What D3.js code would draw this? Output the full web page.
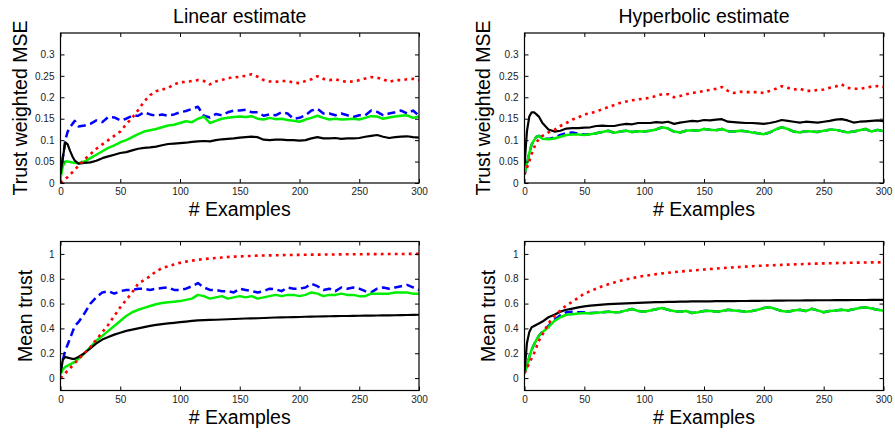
<!DOCTYPE html>
<html>
<head>
<meta charset="utf-8">
<script src="https://cdn.jsdelivr.net/npm/d3@7"></script>
<style>
  html, body { margin: 0; padding: 0; background: #fff; }
  svg { display: block; font-family: "Liberation Sans", Arial, Helvetica, sans-serif; }
</style>
</head>
<body>
<svg id="chart" width="895" height="434"></svg>
<script>
// Number of training examples at which each curve is sampled
const xs = [0, 2, 4, 6, 8, 10, 12, 15,
  20, 25, 30, 35, 40, 45, 50, 55, 60, 65,
  70, 75, 80, 85, 90, 95, 100, 105, 110, 115,
  120, 125, 130, 135, 140, 145, 150, 155, 160, 165,
  170, 175, 180, 185, 190, 195, 200, 205, 210, 215,
  220, 225, 230, 235, 240, 245, 250, 255, 260, 265,
  270, 275, 280, 285, 290, 295, 300];

// Tick labels
const xTicks = [0, 50, 100, 150, 200, 250, 300];
const mseTicks = [0, 0.05, 0.1, 0.15, 0.2, 0.25, 0.3];
const trustTicks = [0, 0.2, 0.4, 0.6, 0.8, 1];

// ---- Linear estimate: trust weighted MSE ----
const linMseRed = [0, 0.004, 0.009, 0.014, 0.02, 0.025, 0.031, 0.04,
  0.055, 0.067, 0.08, 0.09, 0.1, 0.11, 0.12, 0.137, 0.152, 0.17,
  0.19, 0.205, 0.214, 0.218, 0.222, 0.23, 0.235, 0.236, 0.238, 0.24,
  0.238, 0.23, 0.237, 0.24, 0.245, 0.246, 0.248, 0.25, 0.254, 0.248,
  0.24, 0.237, 0.236, 0.238, 0.238, 0.234, 0.233, 0.238, 0.242, 0.249,
  0.243, 0.24, 0.242, 0.238, 0.236, 0.237, 0.24, 0.244, 0.247, 0.246,
  0.242, 0.236, 0.24, 0.24, 0.242, 0.243, 0.24];
const linMseBlue = [0.02, 0.06, 0.1, 0.12, 0.13, 0.138, 0.145, 0.132,
  0.134, 0.138, 0.146, 0.142, 0.154, 0.153, 0.146, 0.15, 0.157, 0.157,
  0.165, 0.16, 0.157, 0.16, 0.157, 0.16, 0.165, 0.168, 0.173, 0.178,
  0.157, 0.153, 0.161, 0.158, 0.165, 0.169, 0.169, 0.171, 0.165, 0.165,
  0.157, 0.16, 0.158, 0.165, 0.162, 0.15, 0.152, 0.158, 0.169, 0.173,
  0.162, 0.162, 0.158, 0.162, 0.158, 0.154, 0.158, 0.158, 0.169, 0.166,
  0.158, 0.162, 0.165, 0.169, 0.162, 0.169, 0.157];
const linMseGreen = [0.01, 0.04, 0.05, 0.05, 0.049, 0.048, 0.047, 0.046,
  0.05, 0.058, 0.066, 0.074, 0.082, 0.088, 0.095, 0.1, 0.107, 0.114,
  0.12, 0.123, 0.126, 0.13, 0.134, 0.136, 0.14, 0.144, 0.142, 0.15,
  0.155, 0.14, 0.145, 0.15, 0.152, 0.154, 0.155, 0.154, 0.156, 0.15,
  0.148, 0.152, 0.149, 0.15, 0.147, 0.145, 0.143, 0.148, 0.152, 0.157,
  0.152, 0.148, 0.15, 0.148, 0.149, 0.15, 0.148, 0.152, 0.156, 0.155,
  0.15, 0.153, 0.155, 0.157, 0.158, 0.152, 0.155];
const linMseBlack = [0.02, 0.06, 0.095, 0.09, 0.075, 0.062, 0.052, 0.045,
  0.047, 0.048, 0.052, 0.058, 0.062, 0.066, 0.07, 0.072, 0.076, 0.08,
  0.082, 0.083, 0.085, 0.088, 0.091, 0.092, 0.093, 0.094, 0.096, 0.097,
  0.098, 0.097, 0.1, 0.102, 0.103, 0.104, 0.106, 0.107, 0.108, 0.107,
  0.101, 0.1, 0.101, 0.101, 0.1, 0.1, 0.099, 0.1, 0.104, 0.107,
  0.104, 0.104, 0.105, 0.103, 0.104, 0.104, 0.105, 0.108, 0.11, 0.112,
  0.108, 0.105, 0.107, 0.108, 0.109, 0.107, 0.106];

// ---- Hyperbolic estimate: trust weighted MSE ----
const hypMseRed = [0.02, 0.035, 0.05, 0.068, 0.082, 0.095, 0.102, 0.11,
  0.118, 0.124, 0.133, 0.14, 0.148, 0.153, 0.16, 0.163, 0.167, 0.172,
  0.177, 0.182, 0.187, 0.19, 0.193, 0.195, 0.197, 0.199, 0.203, 0.207,
  0.207, 0.2, 0.203, 0.207, 0.21, 0.212, 0.215, 0.217, 0.22, 0.224,
  0.215, 0.21, 0.213, 0.212, 0.212, 0.212, 0.21, 0.215, 0.22, 0.226,
  0.222, 0.218, 0.22, 0.215, 0.215, 0.217, 0.218, 0.222, 0.225, 0.23,
  0.222, 0.22, 0.22, 0.222, 0.225, 0.226, 0.224];
const hypMseBlue = [0.02, 0.045, 0.07, 0.09, 0.1, 0.108, 0.11, 0.104,
  0.103, 0.106, 0.112, 0.117, 0.118, 0.115, 0.113, 0.114, 0.116, 0.119,
  0.122, 0.117, 0.12, 0.122, 0.119, 0.121, 0.12, 0.122, 0.125, 0.13,
  0.127, 0.12, 0.118, 0.122, 0.123, 0.122, 0.126, 0.124, 0.123, 0.126,
  0.121, 0.12, 0.122, 0.121, 0.118, 0.116, 0.114, 0.118, 0.125, 0.13,
  0.126, 0.12, 0.118, 0.121, 0.12, 0.119, 0.122, 0.124, 0.124, 0.121,
  0.118, 0.12, 0.123, 0.126, 0.12, 0.124, 0.121];
const hypMseGreen = [0.02, 0.045, 0.07, 0.09, 0.1, 0.108, 0.11, 0.103,
  0.102, 0.104, 0.108, 0.112, 0.113, 0.113, 0.112, 0.114, 0.116, 0.119,
  0.122, 0.117, 0.12, 0.122, 0.119, 0.121, 0.12, 0.122, 0.125, 0.13,
  0.127, 0.12, 0.118, 0.122, 0.123, 0.122, 0.126, 0.124, 0.123, 0.126,
  0.121, 0.12, 0.122, 0.121, 0.118, 0.116, 0.114, 0.118, 0.125, 0.13,
  0.126, 0.12, 0.118, 0.121, 0.12, 0.119, 0.122, 0.124, 0.124, 0.121,
  0.118, 0.12, 0.123, 0.126, 0.12, 0.124, 0.121];
const hypMseBlack = [0.04, 0.12, 0.155, 0.165, 0.165, 0.16, 0.155, 0.14,
  0.125, 0.12, 0.122, 0.127, 0.128, 0.128, 0.129, 0.13, 0.133, 0.134,
  0.133, 0.133, 0.136, 0.138, 0.137, 0.14, 0.14, 0.14, 0.142, 0.141,
  0.143, 0.138, 0.141, 0.143, 0.145, 0.144, 0.147, 0.146, 0.148, 0.149,
  0.143, 0.142, 0.141, 0.14, 0.14, 0.139, 0.138, 0.14, 0.143, 0.147,
  0.145, 0.143, 0.141, 0.143, 0.142, 0.141, 0.143, 0.145, 0.148, 0.149,
  0.146, 0.141, 0.143, 0.144, 0.145, 0.146, 0.144];

// ---- Linear estimate: mean trust ----
const linTrustRed = [0, 0.02, 0.04, 0.06, 0.08, 0.1, 0.12, 0.15,
  0.2, 0.25, 0.31, 0.37, 0.43, 0.5, 0.57, 0.63, 0.69, 0.76,
  0.79, 0.82, 0.86, 0.885, 0.9, 0.915, 0.928, 0.938, 0.946, 0.953,
  0.959, 0.963, 0.967, 0.971, 0.975, 0.978, 0.98, 0.982, 0.984, 0.986,
  0.987, 0.988, 0.989, 0.99, 0.991, 0.992, 0.992, 0.993, 0.994, 0.994,
  0.995, 0.995, 0.996, 0.996, 0.997, 0.997, 0.997, 0.998, 0.998, 0.998,
  0.999, 0.999, 0.999, 0.999, 1, 1, 1];
const linTrustBlue = [0.05, 0.15, 0.22, 0.27, 0.32, 0.37, 0.42, 0.45,
  0.52, 0.6, 0.65, 0.69, 0.7, 0.68, 0.7, 0.71, 0.71, 0.72,
  0.72, 0.71, 0.72, 0.725, 0.73, 0.71, 0.71, 0.72, 0.74, 0.765,
  0.73, 0.71, 0.71, 0.7, 0.7, 0.69, 0.72, 0.71, 0.7, 0.69,
  0.7, 0.72, 0.715, 0.7, 0.73, 0.72, 0.72, 0.73, 0.76, 0.74,
  0.71, 0.72, 0.7, 0.73, 0.72, 0.73, 0.72, 0.7, 0.69, 0.72,
  0.73, 0.72, 0.73, 0.74, 0.75, 0.73, 0.71];
const linTrustGreen = [0.03, 0.07, 0.09, 0.1, 0.11, 0.12, 0.13, 0.155,
  0.2, 0.25, 0.3, 0.34, 0.38, 0.42, 0.46, 0.5, 0.53, 0.55,
  0.565, 0.58, 0.595, 0.605, 0.61, 0.615, 0.62, 0.63, 0.64, 0.67,
  0.66, 0.64, 0.65, 0.66, 0.64, 0.65, 0.66, 0.65, 0.66, 0.64,
  0.65, 0.66, 0.67, 0.66, 0.67, 0.67, 0.66, 0.67, 0.69, 0.68,
  0.66, 0.67, 0.67, 0.68, 0.67, 0.67, 0.66, 0.66, 0.68, 0.68,
  0.68, 0.68, 0.69, 0.69, 0.69, 0.68, 0.68];
const linTrustBlack = [0.04, 0.15, 0.17, 0.165, 0.16, 0.155, 0.155, 0.17,
  0.2, 0.24, 0.28, 0.31, 0.33, 0.35, 0.365, 0.38, 0.39, 0.4,
  0.41, 0.42, 0.428, 0.435, 0.44, 0.445, 0.45, 0.455, 0.46, 0.465,
  0.467, 0.468, 0.47, 0.472, 0.474, 0.476, 0.478, 0.48, 0.481, 0.482,
  0.484, 0.486, 0.488, 0.489, 0.49, 0.491, 0.492, 0.494, 0.495, 0.496,
  0.497, 0.498, 0.499, 0.5, 0.5, 0.501, 0.502, 0.503, 0.503, 0.504,
  0.505, 0.505, 0.506, 0.507, 0.508, 0.509, 0.51];

// ---- Hyperbolic estimate: mean trust ----
const hypTrustRed = [0.04, 0.08, 0.12, 0.16, 0.2, 0.25, 0.3, 0.35,
  0.44, 0.5, 0.545, 0.585, 0.615, 0.648, 0.68, 0.7, 0.72, 0.74,
  0.755, 0.77, 0.783, 0.795, 0.805, 0.815, 0.823, 0.83, 0.837, 0.843,
  0.848, 0.853, 0.858, 0.862, 0.866, 0.87, 0.874, 0.878, 0.882, 0.886,
  0.889, 0.892, 0.895, 0.898, 0.901, 0.904, 0.906, 0.908, 0.91, 0.912,
  0.914, 0.916, 0.917, 0.919, 0.921, 0.922, 0.924, 0.925, 0.926, 0.927,
  0.928, 0.929, 0.93, 0.931, 0.932, 0.932, 0.933];
const hypTrustBlue = [0.04, 0.1, 0.17, 0.23, 0.27, 0.31, 0.34, 0.375,
  0.42, 0.47, 0.505, 0.53, 0.535, 0.53, 0.53, 0.525, 0.527, 0.53,
  0.535, 0.53, 0.532, 0.545, 0.556, 0.54, 0.535, 0.545, 0.555, 0.564,
  0.55, 0.54, 0.535, 0.54, 0.524, 0.53, 0.54, 0.543, 0.535, 0.54,
  0.55, 0.545, 0.54, 0.535, 0.54, 0.55, 0.565, 0.57, 0.555, 0.54,
  0.535, 0.545, 0.55, 0.54, 0.558, 0.545, 0.53, 0.54, 0.545, 0.55,
  0.545, 0.555, 0.565, 0.57, 0.56, 0.55, 0.543];
const hypTrustGreen = [0.04, 0.1, 0.17, 0.23, 0.27, 0.31, 0.34, 0.37,
  0.41, 0.46, 0.49, 0.51, 0.515, 0.52, 0.524, 0.52, 0.527, 0.53,
  0.535, 0.53, 0.532, 0.545, 0.556, 0.54, 0.535, 0.545, 0.555, 0.564,
  0.55, 0.54, 0.535, 0.54, 0.524, 0.53, 0.54, 0.543, 0.535, 0.54,
  0.55, 0.545, 0.54, 0.535, 0.54, 0.55, 0.565, 0.57, 0.555, 0.54,
  0.535, 0.545, 0.55, 0.54, 0.558, 0.545, 0.53, 0.54, 0.545, 0.55,
  0.545, 0.555, 0.565, 0.57, 0.56, 0.55, 0.543];
const hypTrustBlack = [0.04, 0.28, 0.37, 0.41, 0.42, 0.43, 0.44, 0.455,
  0.49, 0.51, 0.535, 0.55, 0.56, 0.57, 0.578, 0.583, 0.588, 0.592,
  0.595, 0.598, 0.6, 0.602, 0.604, 0.606, 0.608, 0.61, 0.611, 0.612,
  0.613, 0.614, 0.615, 0.616, 0.617, 0.617, 0.618, 0.618, 0.619, 0.619,
  0.62, 0.62, 0.621, 0.621, 0.622, 0.622, 0.623, 0.623, 0.624, 0.624,
  0.625, 0.625, 0.625, 0.626, 0.626, 0.627, 0.627, 0.627, 0.628, 0.628,
  0.628, 0.629, 0.629, 0.629, 0.63, 0.63, 0.63];

// Line styles for the four methods (drawn in this order)
const styleBlue  = { color: "#0000ff", dash: "8,4.5", width: 2.5 };
const styleGreen = { color: "#00ee00", dash: null,    width: 2.5 };
const styleBlack = { color: "#000000", dash: null,    width: 2.2 };
const styleRed   = { color: "#ff0000", dash: "2.8,4.2", width: 2.6 };

const panels = [
  { x0: 60.5, y0: 33, w: 358.5, h: 150, yDomain: [0, 0.35], yTicks: mseTicks,
    title: "Linear estimate", ylabel: "Trust weighted MSE", ylabelOffset: 40,
    series: [[linMseBlue, styleBlue], [linMseGreen, styleGreen], [linMseBlack, styleBlack], [linMseRed, styleRed]] },
  { x0: 524.5, y0: 33, w: 359, h: 150, yDomain: [0, 0.35], yTicks: mseTicks,
    title: "Hyperbolic estimate", ylabel: "Trust weighted MSE", ylabelOffset: 41,
    series: [[hypMseBlue, styleBlue], [hypMseGreen, styleGreen], [hypMseBlack, styleBlack], [hypMseRed, styleRed]] },
  { x0: 60.5, y0: 241.5, w: 358.5, h: 149, yDomain: [-0.1, 1.1], yTicks: trustTicks,
    title: null, ylabel: "Mean trust", ylabelOffset: 35,
    series: [[linTrustBlue, styleBlue], [linTrustGreen, styleGreen], [linTrustBlack, styleBlack], [linTrustRed, styleRed]] },
  { x0: 524.5, y0: 241.5, w: 359, h: 149, yDomain: [-0.1, 1.1], yTicks: trustTicks,
    title: null, ylabel: "Mean trust", ylabelOffset: 36,
    series: [[hypTrustBlue, styleBlue], [hypTrustGreen, styleGreen], [hypTrustBlack, styleBlack], [hypTrustRed, styleRed]] }
];

const svg = d3.select("#chart");
const fmt = d => String(+d.toFixed(2));
const tickLen = 4;

panels.forEach((p, i) => {
  const x = d3.scaleLinear().domain([0, 300]).range([0, p.w]);
  const y = d3.scaleLinear().domain(p.yDomain).range([p.h, 0]);
  const g = svg.append("g").attr("transform", `translate(${p.x0},${p.y0})`);

  const clipId = "clip" + i;
  g.append("clipPath").attr("id", clipId)
    .append("rect").attr("x", 0).attr("y", 0).attr("width", p.w).attr("height", p.h);

  // curves
  const line = d3.line().x((d, j) => x(xs[j])).y(d => y(d));
  const plot = g.append("g").attr("clip-path", `url(#${clipId})`);
  p.series.forEach(([vals, st]) => {
    plot.append("path")
      .datum(vals)
      .attr("d", line)
      .attr("fill", "none")
      .attr("stroke", st.color)
      .attr("stroke-width", st.width)
      .attr("stroke-linejoin", "round")
      .attr("stroke-dasharray", st.dash);
  });

  // axes with inward ticks on all four sides
  const axStyle = a => {
    a.select(".domain").remove();
    a.selectAll(".tick line").attr("stroke", "#000").attr("stroke-width", 1);
    a.selectAll(".tick text").attr("fill", "#222").style("font-size", "10px")
      .style("font-family", '"Liberation Sans", Arial, sans-serif');
  };
  g.append("g").attr("transform", `translate(0,${p.h})`)
    .call(d3.axisBottom(x).tickValues(xTicks).tickFormat(fmt).tickSizeInner(-tickLen).tickSizeOuter(0).tickPadding(5))
    .call(axStyle);
  g.append("g")
    .call(d3.axisTop(x).tickValues(xTicks).tickFormat("").tickSizeInner(-tickLen).tickSizeOuter(0))
    .call(axStyle);
  g.append("g")
    .call(d3.axisLeft(y).tickValues(p.yTicks).tickFormat(fmt).tickSizeInner(-tickLen).tickSizeOuter(0).tickPadding(6))
    .call(axStyle);
  g.append("g").attr("transform", `translate(${p.w},0)`)
    .call(d3.axisRight(y).tickValues(p.yTicks).tickFormat("").tickSizeInner(-tickLen).tickSizeOuter(0))
    .call(axStyle);

  // box
  g.append("rect").attr("x", 0).attr("y", 0).attr("width", p.w).attr("height", p.h)
    .attr("fill", "none").attr("stroke", "#000").attr("stroke-width", 1.2);

  // labels
  if (p.title) {
    g.append("text").attr("x", p.w / 2).attr("y", -10)
      .attr("text-anchor", "middle").style("font-size", "19.5px").attr("fill", "#000")
      .text(p.title);
  }
  g.append("text").attr("x", p.w / 2).attr("y", p.h + 33)
    .attr("text-anchor", "middle").style("font-size", "19.5px").attr("fill", "#000")
    .text("# Examples");
  g.append("text")
    .attr("transform", `translate(${-p.ylabelOffset},${p.h / 2}) rotate(-90)`)
    .attr("dy", "0.35em")
    .attr("text-anchor", "middle").style("font-size", "19.5px").attr("fill", "#000")
    .text(p.ylabel);
});
</script>
</body>
</html>
